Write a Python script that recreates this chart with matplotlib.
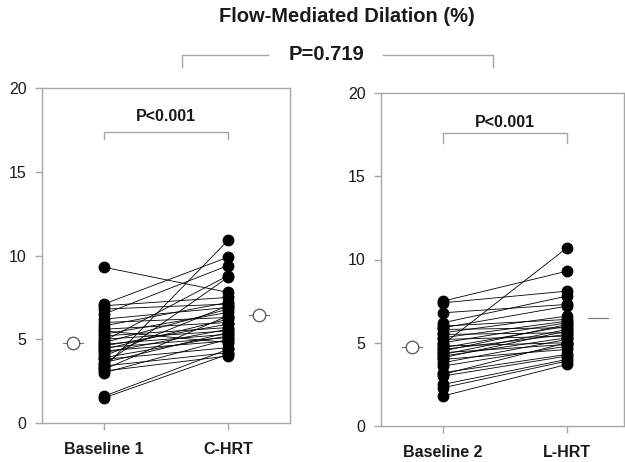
import matplotlib
matplotlib.use("Agg")
import matplotlib.pyplot as plt
from matplotlib.lines import Line2D

plt.rcParams['font.family'] = ['Liberation Sans', 'DejaVu Sans']

# ---- data ----
title = "Flow-Mediated Dilation (%)"
p_between = "P=0.719"
p_within = ["P<0.001", "P<0.001"]
labels_left = ["Baseline 1", "C-HRT"]
labels_right = ["Baseline 2", "L-HRT"]

baseline1 = [9.3, 7.1, 7.0, 6.8, 6.5, 6.2, 6.0, 5.8, 5.6, 5.5, 5.3, 5.2, 5.0, 4.9, 4.8, 4.7,
             4.6, 4.5, 4.4, 4.3, 4.2, 4.0, 3.9, 3.8, 3.6, 3.5, 3.4, 3.3, 3.2, 3.1, 3.0, 1.6, 1.5]
chrt = [7.8, 9.9, 7.5, 7.1, 9.4, 6.9, 6.3, 7.2, 6.0, 4.8, 6.6, 5.7, 5.5, 8.8, 6.8, 5.3,
        5.9, 5.1, 6.2, 4.9, 5.6, 7.0, 5.2, 4.5, 5.4, 8.7, 4.2, 10.9, 6.4, 4.0, 5.0, 4.4, 4.1]

baseline2 = [7.5, 7.4, 6.8, 6.2, 6.0, 5.9, 5.8, 5.6, 5.5, 5.3, 5.2, 5.0, 4.9, 4.8, 4.7,
             4.6, 4.5, 4.4, 4.3, 4.2, 4.1, 4.0, 3.8, 3.6, 3.2, 3.1, 3.0, 2.5, 2.3, 1.8]
lhrt = [9.3, 8.1, 7.3, 7.8, 6.4, 7.2, 5.9, 6.6, 5.6, 6.3, 5.4, 6.2, 10.7, 5.0, 6.0,
        5.5, 6.1, 4.9, 5.8, 5.3, 5.7, 4.6, 5.2, 4.8, 4.3, 5.0, 4.2, 4.0, 3.9, 3.7]

means_left = [4.8, 6.45]
means_right = [4.75, 6.5]
yticks = [0, 5, 10, 15, 20]

GRAY = "#a6a6a6"
TXT = "#1a1a1a"

fig = plt.figure(figsize=(6.25, 4.62), dpi=100)

def panel(rect, xmax, base, post, means, xlabels, ptext, br_y, br_low, txt_y, post_circle=True):
    ax = fig.add_axes(rect)
    for b, p in zip(base, post):
        ax.plot([0, 1], [b, p], color="black", lw=0.6, zorder=2)
    ax.plot([0] * len(base), base, 'o', color="black", ms=7.5, zorder=3)
    ax.plot([1] * len(post), post, 'o', color="black", ms=7.5, zorder=3)
    # mean markers
    for i, (xc, m) in enumerate(zip([-0.25, 1.25], means)):
        ax.plot([xc - 0.08, xc + 0.08], [m, m], color="#777777", lw=0.8, zorder=3)
        if i == 0 or post_circle:
            ax.plot([xc], [m], 'o', mfc="white", mec="#555555", mew=0.9, ms=9, zorder=4)
    # bracket
    ax.plot([0, 0, 1, 1], [br_low, br_y, br_y, br_low], color=GRAY, lw=1.0, zorder=1)
    ax.text(0.5, txt_y, ptext, ha='center', va='center', fontsize=11.5,
            fontweight='bold', color=TXT)
    ax.set_xlim(-0.5, xmax)
    ax.set_ylim(0, 20)
    ax.set_xticks([0, 1])
    ax.set_xticklabels(xlabels, fontsize=11.5, fontweight='bold', color=TXT)
    ax.set_yticks(yticks)
    ax.set_yticklabels([str(t) for t in yticks], fontsize=11.5, color=TXT)
    ax.tick_params(axis='both', direction='out', length=5, width=1, color=GRAY)
    ax.tick_params(axis='y', pad=6)
    ax.tick_params(axis='x', pad=9)
    for s in ax.spines.values():
        s.set_color(GRAY)
        s.set_linewidth(1.0)
    return ax

panel([42 / 625, 1 - 423 / 462, 248 / 625, 335 / 462], 1.5,
      baseline1, chrt, means_left, labels_left, p_within[0], 17.4, 16.95, 18.3)
panel([381 / 625, 1 - 426 / 462, 243 / 625, 333 / 462], 1.46,
      baseline2, lhrt, means_right, labels_right, p_within[1], 17.6, 17.0, 18.2,
      post_circle=False)

# top title and between-group bracket
fig.text(347 / 625, 1 - 17 / 462, title, ha='center', va='center', fontsize=14.5,
         fontweight='bold', color=TXT)
fig.text(327 / 625, 1 - 55 / 462, p_between, ha='center', va='center', fontsize=14.5,
         fontweight='bold', color=TXT)
fig.add_artist(Line2D([182 / 625, 182 / 625, 268 / 625],
                      [1 - 67 / 462, 1 - 55 / 462, 1 - 55 / 462], color=GRAY, lw=1.0))
fig.add_artist(Line2D([383 / 625, 493 / 625, 493 / 625],
                      [1 - 55 / 462, 1 - 55 / 462, 1 - 67 / 462], color=GRAY, lw=1.0))

fig.savefig("out.png", dpi=100)
